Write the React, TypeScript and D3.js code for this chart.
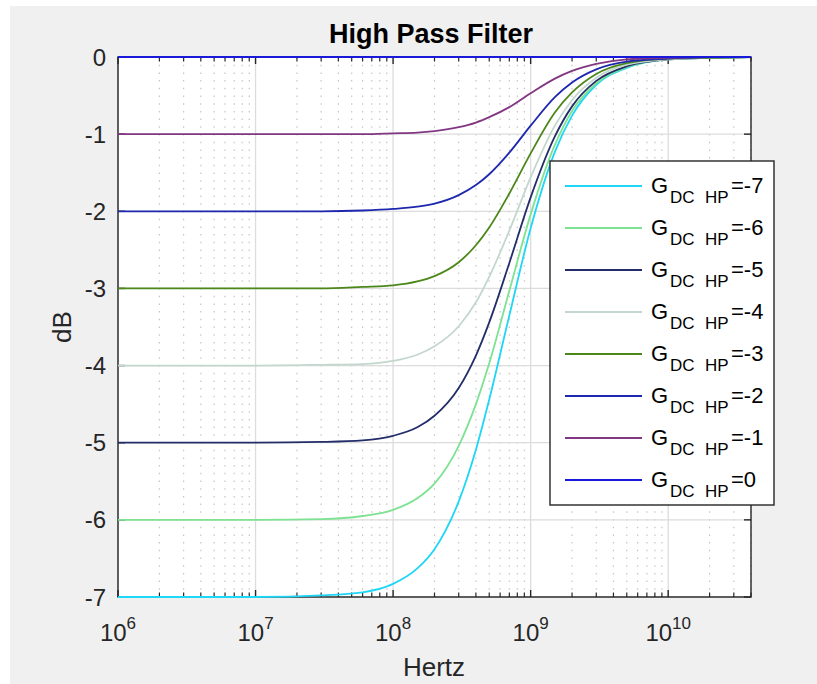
import React from "react";
import * as d3 from "d3";

// frequency samples (Hz) the curves were read at
const freqHz = [1e6, 1e7, 3e7, 6e7, 1e8, 1.5e8, 2e8, 3e8, 4e8, 5e8, 7e8, 1e9, 1.5e9, 2e9, 3e9, 5e9, 1e10, 2e10, 4e10];

// gain in dB for each DC setting
const gdcM7 = [-7.0, -7.0, -6.98, -6.94, -6.83, -6.63, -6.38, -5.76, -5.09, -4.44, -3.35, -2.22, -1.23, -0.76, -0.36, -0.14, -0.03, -0.01, 0];
const gdcM6 = [-6.0, -6.0, -5.99, -5.95, -5.87, -5.72, -5.53, -5.04, -4.5, -3.97, -3.03, -2.04, -1.14, -0.7, -0.34, -0.13, -0.03, -0.01, 0];
const gdcM5 = [-5.0, -5.0, -4.99, -4.97, -4.91, -4.8, -4.65, -4.29, -3.87, -3.44, -2.67, -1.82, -1.03, -0.64, -0.31, -0.12, -0.03, -0.01, 0];
const gdcM4 = [-4.0, -4.0, -3.99, -3.98, -3.94, -3.86, -3.75, -3.49, -3.18, -2.85, -2.25, -1.56, -0.89, -0.56, -0.27, -0.1, -0.03, -0.01, 0];
const gdcM3 = [-3.0, -3.0, -3.0, -2.98, -2.96, -2.91, -2.84, -2.66, -2.44, -2.21, -1.77, -1.25, -0.72, -0.46, -0.22, -0.08, -0.02, -0.01, 0];
const gdcM2 = [-2.0, -2.0, -2.0, -1.99, -1.97, -1.94, -1.9, -1.79, -1.66, -1.52, -1.24, -0.89, -0.52, -0.33, -0.16, -0.06, -0.02, 0, 0];
const gdcM1 = [-1.0, -1.0, -1.0, -1.0, -0.99, -0.98, -0.96, -0.91, -0.85, -0.78, -0.65, -0.47, -0.28, -0.18, -0.09, -0.03, -0.01, 0, 0];
const gdc0 = [0, 0, 0, 0, 0, 0, 0, 0, 0, 0, 0, 0, 0, 0, 0, 0, 0, 0, 0];

const legendLabels = ["-7", "-6", "-5", "-4", "-3", "-2", "-1", "0"];
const allSeries = [gdcM7, gdcM6, gdcM5, gdcM4, gdcM3, gdcM2, gdcM1, gdc0];
const colors = ["#1ed6f5", "#7de291", "#232d69", "#c3d7cd", "#4b8719", "#1e28af", "#823782", "#1919dc"];

const W = 817;
const H = 684;
const left = 118, right = 751, top = 57, bottom = 597;
const font = "'Liberation Sans', Arial, Helvetica, sans-serif";
const axisColor = "#262626";

export default function App() {
  const x = d3.scaleLog().domain([1e6, 4e10]).range([left, right]);
  const y = d3.scaleLinear().domain([-7, 0]).range([bottom, top]);

  const allTicks = x.ticks().filter(t => t >= 1e6 && t <= 4e10);
  const decades = allTicks.filter(t => Math.abs(Math.log10(t) - Math.round(Math.log10(t))) < 1e-9);
  const minors = allTicks.filter(t => !decades.includes(t));
  const yTicks = y.ticks(7);

  const line = d3.line<number>()
    .x((_, i) => x(freqHz[i]))
    .y(d => y(d))
    .curve(d3.curveMonotoneX);

  const lgX = 550, lgY = 161, lgW = 224, lgH = 344;

  return (
    <div style={{ position: "absolute", left: 0, top: 0 }}>
      <svg width={W} height={H} style={{ display: "block", fontFamily: font }}>
        <rect x={0} y={0} width={W} height={H} fill="#ffffff" />
        <rect x={10} y={6} width={W - 10} height={H - 6} fill="#f0f0f0" />
        <rect x={left} y={top} width={right - left} height={bottom - top} fill="#ffffff" />

        {/* minor grid */}
        {minors.map(t => (
          <line key={"mg" + t} x1={x(t)} x2={x(t)} y1={top} y2={bottom}
            stroke="#c4c4c4" strokeWidth={1.2} strokeDasharray="1.5 6.2" />
        ))}
        {/* major grid */}
        {decades.map(t => (
          <line key={"g" + t} x1={x(t)} x2={x(t)} y1={top} y2={bottom} stroke="#dcdcdc" strokeWidth={1.3} />
        ))}
        {yTicks.map(t => (
          <line key={"gy" + t} x1={left} x2={right} y1={y(t)} y2={y(t)} stroke="#dcdcdc" strokeWidth={1.3} />
        ))}

        {/* box + ticks */}
        <rect x={left} y={top} width={right - left} height={bottom - top} fill="none" stroke={axisColor} strokeWidth={1.4} />
        {decades.map(t => (
          <g key={"t" + t}>
            <line x1={x(t)} x2={x(t)} y1={bottom} y2={bottom - 7} stroke={axisColor} strokeWidth={1.4} />
            <line x1={x(t)} x2={x(t)} y1={top} y2={top + 7} stroke={axisColor} strokeWidth={1.4} />
          </g>
        ))}
        {minors.map(t => (
          <g key={"mt" + t}>
            <line x1={x(t)} x2={x(t)} y1={bottom} y2={bottom - 4.5} stroke={axisColor} strokeWidth={1.2} />
            <line x1={x(t)} x2={x(t)} y1={top} y2={top + 4.5} stroke={axisColor} strokeWidth={1.2} />
          </g>
        ))}
        {yTicks.map(t => (
          <g key={"yt" + t}>
            <line x1={left} x2={left + 7} y1={y(t)} y2={y(t)} stroke={axisColor} strokeWidth={1.4} />
            <line x1={right} x2={right - 7} y1={y(t)} y2={y(t)} stroke={axisColor} strokeWidth={1.4} />
          </g>
        ))}

        {/* curves */}
        {allSeries.map((vals, i) => (
          <path key={"s" + i} d={line(vals) || ""} fill="none" stroke={colors[i]} strokeWidth={1.8} />
        ))}

        {/* tick labels */}
        {yTicks.map(t => (
          <text key={"yl" + t} x={106} y={y(t)} dy="0.36em" textAnchor="end" fontSize={24} fill={axisColor}>
            {t === 0 ? "0" : String(t)}
          </text>
        ))}
        {decades.map(t => (
          <text key={"xl" + t} x={x(t)} y={641} textAnchor="middle" fontSize={24} fill={axisColor}>
            <tspan>10</tspan>
            <tspan dy={-12} fontSize={17}>{Math.round(Math.log10(t))}</tspan>
          </text>
        ))}

        {/* axis labels and title */}
        <text x={434} y={676} textAnchor="middle" fontSize={26} fill={axisColor}>Hertz</text>
        <text transform={`translate(71,${(top + bottom) / 2}) rotate(-90)`} textAnchor="middle" fontSize={26} fill={axisColor}>dB</text>
        <text x={431} y={43} textAnchor="middle" fontSize={27} fontWeight="bold" fill="#000000">High Pass Filter</text>

        {/* legend */}
        <rect x={lgX} y={lgY} width={lgW} height={lgH} fill="#ffffff" stroke={axisColor} strokeWidth={1.4} />
        {legendLabels.map((lab, i) => {
          const ry = 186 + i * 42;
          return (
            <g key={"lg" + i}>
              <line x1={565} x2={642} y1={ry} y2={ry} stroke={colors[i]} strokeWidth={1.8} />
              <text y={ry + 7} fontSize={22} fill="#000000">
                <tspan x={651}>G</tspan>
                <tspan x={670} dy={10} fontSize={17}>DC</tspan>
                <tspan x={705} fontSize={17}>HP</tspan>
                <tspan x={731} dy={-10}>={lab}</tspan>
              </text>
            </g>
          );
        })}
      </svg>
    </div>
  );
}
